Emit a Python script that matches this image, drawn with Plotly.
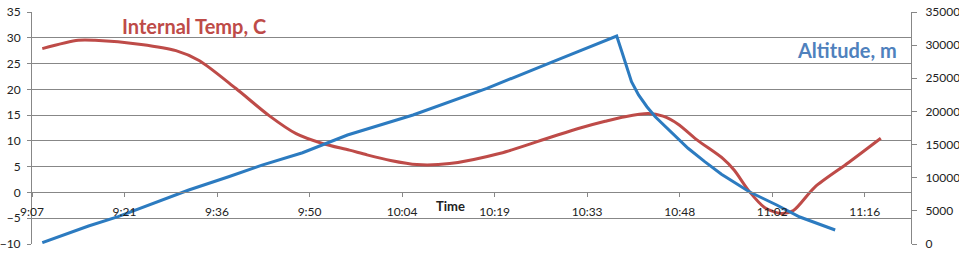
import plotly.graph_objects as go

# time in minutes since midnight
temp_time = [548.8, 554.4, 557.0, 564.2, 569.6, 573.2, 578.9, 584.1, 588.3, 592.4,
             596.6, 599.3, 603.0, 607.1, 612.2, 620.1, 627.9, 632.5, 636.4, 639.5,
             643.1, 645.4, 647.7, 650.8, 654.7, 656.5, 658.7, 661.2, 663.8, 665.7,
             669.0, 674.3, 679.3]
temp_vals = [27.9, 29.5, 29.5, 28.7, 27.5, 25.6, 20.2, 14.9, 11.4, 9.5,
             8.2, 7.3, 6.2, 5.4, 5.6, 7.6, 10.7, 12.5, 13.8, 14.7,
             15.3, 14.8, 13.3, 10.1, 6.6, 4.3, 0.4, -2.9, -4.1, -3.5,
             1.0, 5.8, 10.5]

alt_time = [548.8, 556.0, 560.6, 571.6, 577.8, 583.0, 589.3, 596.3, 606.5, 618.0,
            628.3, 638.2, 639.0, 639.8, 640.5, 641.6, 642.9, 644.2, 645.8, 647.3,
            649.3, 651.9, 654.5, 658.9, 663.1, 666.7, 672.2]
alt_vals = [200, 2715, 4120, 8150, 10150, 11900, 13770, 16440, 19460, 23490,
            27500, 31380, 29010, 26510, 24480, 22480, 20710, 19200, 17700, 16180,
            14440, 12420, 10520, 7840, 5880, 4070, 2110]

tick_vals = [547.2, 561.6, 576.0, 590.4, 604.8, 619.2, 633.6, 648.0, 662.4, 676.8]
tick_text = ["9:07", "9:21", "9:36", "9:50", "10:04", "10:19", "10:33", "10:48", "11:02", "11:16"]

RED = "#BE4B48"
BLUE = "#2C7BC0"
GRID = "#878787"
FONT = "Lato"

fig = go.Figure()
fig.add_trace(go.Scatter(x=temp_time, y=temp_vals, mode="lines",
                         line=dict(color=RED, width=3, shape="spline", smoothing=0.8),
                         yaxis="y", showlegend=False))
fig.add_trace(go.Scatter(x=alt_time, y=alt_vals, mode="lines",
                         line=dict(color=BLUE, width=3),
                         yaxis="y2", showlegend=False))

fig.update_layout(
    width=959, height=254,
    margin=dict(l=32, r=48, t=12, b=10, autoexpand=False),
    paper_bgcolor="white", plot_bgcolor="white",
    font=dict(family=FONT, size=12, color="#222"),
    xaxis=dict(range=[547.2, 684.0], tickvals=tick_vals, ticktext=tick_text,
               showgrid=False, zeroline=False, showline=True, linecolor=GRID,
               ticks="outside", ticklen=4, tickcolor=GRID,
               anchor="free", position=10/45, ticklabelstandoff=4),
    yaxis=dict(range=[-10, 35], dtick=5, showgrid=True, gridcolor=GRID, gridwidth=1,
               zeroline=False, showline=True, linecolor=GRID,
               ticks="outside", ticklen=4, tickcolor=GRID, ticklabelstandoff=4),
    yaxis2=dict(range=[0, 35000], dtick=5000, tickformat="d", overlaying="y", side="right",
                showgrid=False, zeroline=False, showline=True, linecolor=GRID,
                ticks="outside", ticklen=5, tickcolor=GRID, ticklabelstandoff=6),
    annotations=[
        dict(text="<b>Internal Temp, C</b>", xref="paper", yref="paper",
             x=(194 - 32) / 879, y=(244 - 26) / 232, xanchor="center", yanchor="middle",
             showarrow=False, font=dict(family=FONT, size=20, color=RED)),
        dict(text="<b>Altitude, m</b>", xref="paper", yref="paper",
             x=(847 - 32) / 879, y=(244 - 50) / 232, xanchor="center", yanchor="middle",
             showarrow=False, font=dict(family=FONT, size=20, color="#4F81BD")),
        dict(text="<b>Time</b>", xref="paper", yref="paper",
             x=(450 - 32) / 879, y=(244 - 206) / 232, xanchor="center", yanchor="middle",
             showarrow=False, font=dict(family=FONT, size=13, color="#222")),
    ],
)

fig.write_html("out.html")
